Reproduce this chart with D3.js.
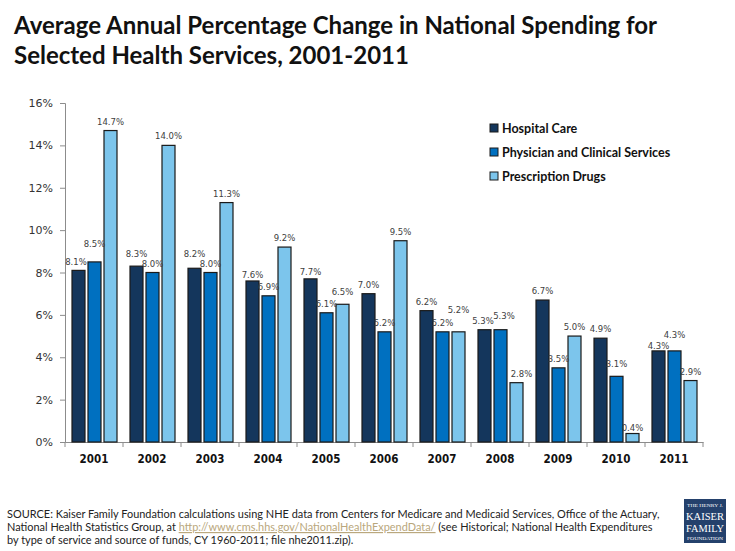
<!DOCTYPE html>
<html>
<head>
<meta charset="utf-8">
<script src="https://cdn.jsdelivr.net/npm/d3@7"></script>
<style>
  body { margin: 0; background: #fff; }
  svg { display: block; }
</style>
</head>
<body>
<svg width="735" height="551"></svg>
<script>
// data
var years = ["2001", "2002", "2003", "2004", "2005", "2006", "2007", "2008", "2009", "2010", "2011"];
var seriesNames = ["Hospital Care", "Physician and Clinical Services", "Prescription Drugs"];
var hospital = [8.1, 8.3, 8.2, 7.6, 7.7, 7.0, 6.2, 5.3, 6.7, 4.9, 4.3];
var physician = [8.5, 8.0, 8.0, 6.9, 6.1, 5.2, 5.2, 5.3, 3.5, 3.1, 4.3];
var drugs = [14.7, 14.0, 11.3, 9.2, 6.5, 9.5, 5.2, 2.8, 5.0, 0.4, 2.9];
var yTicks = [0, 2, 4, 6, 8, 10, 12, 14, 16];

var colors = ["#14365c", "#0070c0", "#7cc5ec"];
var seriesValues = [hospital, physician, drugs];

// labels were hand-moved in the original; extra lift (px) for a few of them
var labelNudge = {
    "0-2001": -1, "1-2001": 9, "0-2002": 3, "0-2003": 5, "0-2004": -3,
    "0-2005": -2.5, "2-2005": 3.5, "1-2008": 4.5, "2-2007": 13,
    "1-2010": 3, "2-2010": -3, "0-2011": -4, "1-2011": 7
};
// and sideways shift (px)
var labelShift = { "0-2001": -2.5, "0-2008": -1.5, "1-2008": 3.5, "2-2008": 5 };

var svg = d3.select("svg");

// title
var title = svg.append("text")
    .style("font-family", "Lato, 'Open Sans', sans-serif")
    .style("font-weight", "bold")
    .style("font-size", "24px")
    .style("fill", "#111");
title.append("tspan").attr("x", 14).attr("y", 34)
    .text("Average Annual Percentage Change in National Spending for");
title.append("tspan").attr("x", 14).attr("y", 64)
    .text("Selected Health Services, 2001-2011");

var x = d3.scaleBand()
    .domain(years)
    .range([65, 703]);

var xSub = d3.scaleBand()
    .domain(seriesNames)
    .range([7, 52])
    .paddingInner(0.1875);

var y = d3.scaleLinear()
    .domain([0, 16])
    .range([442, 103]);

// y axis
var yAxis = svg.append("g")
    .attr("transform", "translate(65,0)")
    .call(d3.axisLeft(y)
        .tickValues(yTicks)
        .tickSize(5)
        .tickPadding(7)
        .tickFormat(function (d) { return d + "%"; }));
yAxis.select(".domain").attr("stroke", "#8c8c8c");
yAxis.selectAll(".tick line").attr("stroke", "#8c8c8c");
yAxis.selectAll(".tick text")
    .style("font-family", "'DejaVu Sans', Verdana, sans-serif")
    .style("font-size", "11px")
    .style("fill", "#333");

// x axis
var xAxis = svg.append("g")
    .attr("transform", "translate(0,442)")
    .call(d3.axisBottom(x).tickSize(0).tickPadding(13));
xAxis.select(".domain").attr("stroke", "#8c8c8c");
xAxis.selectAll(".tick text")
    .style("font-family", "'DejaVu Sans Condensed', 'DejaVu Sans', sans-serif")
    .style("font-weight", "bold")
    .style("font-size", "11.5px")
    .style("fill", "#111");
// category separators
xAxis.selectAll(".sep")
    .data(years.concat(["end"]))
    .enter().append("line")
    .attr("class", "sep")
    .attr("x1", function (d, i) { return i < years.length ? x(d) : x.range()[1]; })
    .attr("x2", function (d, i) { return i < years.length ? x(d) : x.range()[1]; })
    .attr("y1", 0)
    .attr("y2", 5)
    .attr("stroke", "#8c8c8c");

// bars
var groups = svg.selectAll(".year")
    .data(years)
    .enter().append("g")
    .attr("class", "year")
    .attr("transform", function (d) { return "translate(" + x(d) + ",0)"; });

var cells = groups.selectAll(".cell")
    .data(function (d, i) {
        return seriesNames.map(function (s, k) {
            return { year: d, series: s, k: k, value: seriesValues[k][i] };
        });
    })
    .enter();

cells.append("rect")
    .attr("x", function (d) { return xSub(d.series); })
    .attr("y", function (d) { return y(d.value); })
    .attr("width", xSub.bandwidth())
    .attr("height", function (d) { return y(0) - y(d.value); })
    .style("fill", function (d) { return colors[d.k]; })
    .style("stroke", "#1a1a1a")
    .style("stroke-width", 1.2);

cells.append("text")
    .attr("x", function (d) {
        var shift = labelShift[d.k + "-" + d.year] || 0;
        return xSub(d.series) + xSub.bandwidth() / 2 + shift;
    })
    .attr("y", function (d) {
        var lift = labelNudge[d.k + "-" + d.year] || 0;
        return y(d.value) - 6 - lift;
    })
    .style("text-anchor", "middle")
    .style("font-family", "'DejaVu Sans', Verdana, sans-serif")
    .style("font-size", "8.5px")
    .style("fill", "#404040")
    .text(function (d) { return d.value.toFixed(1) + "%"; });

// legend
var legend = svg.selectAll(".legend")
    .data(seriesNames)
    .enter().append("g")
    .attr("class", "legend")
    .attr("transform", function (d, i) { return "translate(490," + (124 + i * 24) + ")"; });
legend.append("rect")
    .attr("width", 8)
    .attr("height", 8)
    .style("fill", function (d, i) { return colors[i]; })
    .style("stroke", "#1a1a1a")
    .style("stroke-width", 1);
legend.append("text")
    .attr("x", 12)
    .attr("y", 8.5)
    .style("font-family", "Lato, 'Open Sans', sans-serif")
    .style("font-weight", "bold")
    .style("font-size", "12.5px")
    .style("fill", "#111")
    .text(function (d) { return d; });

// source note (squeezed sideways to the width of the original condensed face)
var srcG = svg.append("g");
var src = srcG.append("text")
    .style("font-family", "Lato, 'Open Sans', sans-serif")
    .style("font-size", "11.5px")
    .style("fill", "#222");
var line1 = src.append("tspan").attr("x", 0).attr("y", 518)
    .text("SOURCE: Kaiser Family Foundation calculations using NHE data from Centers for Medicare and Medicaid Services, Office of the Actuary,");
var line2 = src.append("tspan").attr("x", 0).attr("y", 531);
line2.append("tspan").text("National Health Statistics Group, at ");
line2.append("tspan")
    .style("fill", "#b9a77c")
    .style("text-decoration", "underline")
    .text("http://www.cms.hhs.gov/NationalHealthExpendData/");
line2.append("tspan").text(" (see Historical; National Health Expenditures");
src.append("tspan").attr("x", 0).attr("y", 544)
    .text("by type of service and source of funds, CY 1960-2011; file nhe2011.zip).");
var w1 = line1.node().getComputedTextLength();
srcG.attr("transform", "translate(7,0) scale(" + (653 / w1) + ",1)");

// logo
var logo = svg.append("g").attr("transform", "translate(684,499)");
logo.append("rect").attr("width", 42).attr("height", 44).style("fill", "#24416c");
var logoText = [
    { t: "THE HENRY J.", y: 8, s: 5 },
    { t: "KAISER", y: 20.5, s: 11 },
    { t: "FAMILY", y: 32.5, s: 11 },
    { t: "FOUNDATION", y: 40.5, s: 5 }
];
logo.selectAll("text")
    .data(logoText)
    .enter().append("text")
    .attr("x", 21)
    .attr("y", function (d) { return d.y; })
    .attr("textLength", function (d) { return d.s > 6 ? 38 : 36; })
    .attr("lengthAdjust", "spacingAndGlyphs")
    .style("text-anchor", "middle")
    .style("font-family", "'Liberation Serif', 'DejaVu Serif', serif")
    .style("font-size", function (d) { return d.s + "px"; })
    .style("fill", "#fff")
    .text(function (d) { return d.t; });
</script>
</body>
</html>
